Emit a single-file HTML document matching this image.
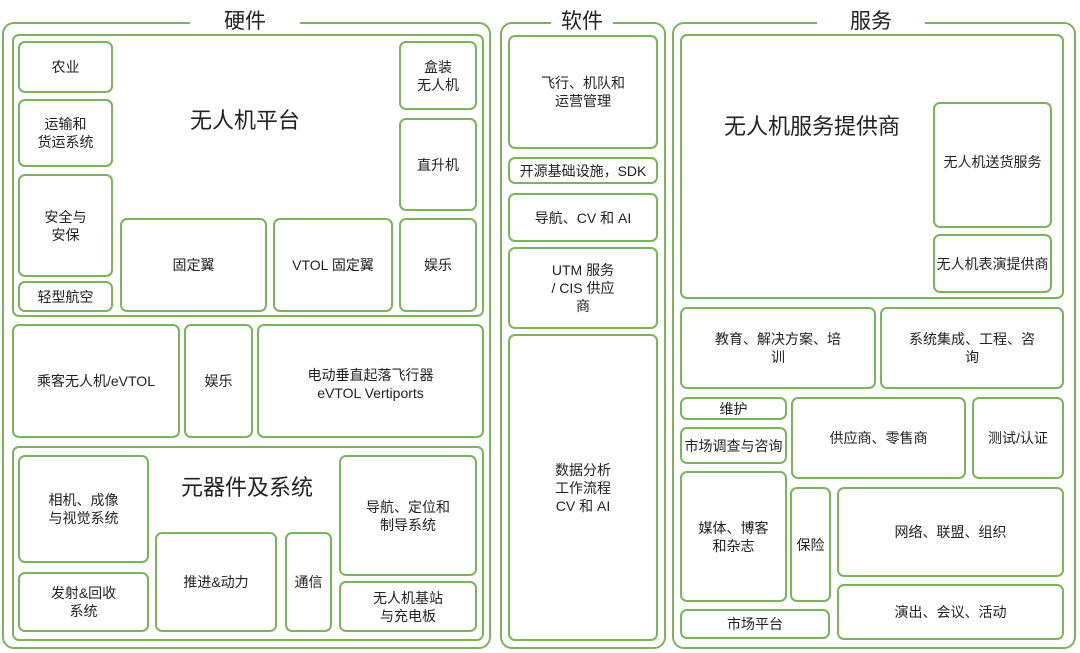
<!DOCTYPE html>
<html><head><meta charset="utf-8"><style>
body{margin:0;width:1080px;height:653px;background:#fff;position:relative;overflow:hidden;font-family:"Liberation Sans","Noto Sans CJK SC",sans-serif;color:#222}
.b{position:absolute;box-sizing:border-box;border:2px solid #7ab55c;border-radius:7px;display:flex;align-items:center;justify-content:center;text-align:center;font-size:14px;line-height:18px}
.t{position:absolute;font-size:22px;white-space:nowrap;color:#222;transform:translate(-50%,-50%)}
.h{position:absolute;background:#fff;font-size:21px;transform:translate(-50%,-50%);padding:0 14px;color:#222}
</style></head><body>
<!-- Hardware -->
<div class="b" style="left:2px;top:22px;width:489px;height:627px;border-radius:12px"></div>
<div class="h" style="left:245px;top:20px;padding:0 34px">硬件</div>
<div class="b" style="left:12px;top:34px;width:472px;height:283px"></div>
<div class="t" style="left:245px;top:119px">无人机平台</div>
<div class="b" style="left:18px;top:41px;width:95px;height:52px">农业</div>
<div class="b" style="left:18px;top:99px;width:95px;height:68px">运输和<br>货运系统</div>
<div class="b" style="left:18px;top:174px;width:95px;height:103px">安全与<br>安保</div>
<div class="b" style="left:18px;top:281px;width:95px;height:31px">轻型航空</div>
<div class="b" style="left:120px;top:218px;width:147px;height:94px">固定翼</div>
<div class="b" style="left:273px;top:218px;width:120px;height:94px">VTOL 固定翼</div>
<div class="b" style="left:399px;top:218px;width:78px;height:94px">娱乐</div>
<div class="b" style="left:399px;top:41px;width:78px;height:69px">盒装<br>无人机</div>
<div class="b" style="left:399px;top:118px;width:78px;height:93px">直升机</div>
<div class="b" style="left:12px;top:324px;width:168px;height:114px">乘客无人机/eVTOL</div>
<div class="b" style="left:184px;top:324px;width:69px;height:114px;align-items:flex-start;padding-top:46px">娱乐</div>
<div class="b" style="left:257px;top:324px;width:227px;height:114px;align-items:flex-start;padding-top:40px">电动垂直起落飞行器<br>eVTOL Vertiports</div>
<div class="b" style="left:12px;top:446px;width:472px;height:195px"></div>
<div class="t" style="left:247px;top:486px">元器件及系统</div>
<div class="b" style="left:18px;top:455px;width:131px;height:108px">相机、成像<br>与视觉系统</div>
<div class="b" style="left:18px;top:572px;width:131px;height:60px">发射&amp;回收<br>系统</div>
<div class="b" style="left:155px;top:532px;width:122px;height:100px">推进&amp;动力</div>
<div class="b" style="left:285px;top:532px;width:47px;height:100px">通信</div>
<div class="b" style="left:339px;top:455px;width:138px;height:121px">导航、定位和<br>制导系统</div>
<div class="b" style="left:339px;top:581px;width:138px;height:51px">无人机基站<br>与充电板</div>
<!-- Software -->
<div class="b" style="left:500px;top:22px;width:166px;height:627px;border-radius:12px"></div>
<div class="h" style="left:582px;top:20px;padding:0 10px">软件</div>
<div class="b" style="left:508px;top:35px;width:150px;height:114px">飞行、机队和<br>运营管理</div>
<div class="b" style="left:508px;top:157px;width:150px;height:27px">开源基础设施，SDK</div>
<div class="b" style="left:508px;top:193px;width:150px;height:49px">导航、CV 和 AI</div>
<div class="b" style="left:508px;top:247px;width:150px;height:82px">UTM 服务<br>/ CIS 供应<br>商</div>
<div class="b" style="left:508px;top:334px;width:150px;height:307px">数据分析<br>工作流程<br>CV 和 AI</div>
<!-- Services -->
<div class="b" style="left:672px;top:22px;width:404px;height:627px;border-radius:12px"></div>
<div class="h" style="left:871px;top:20px;padding:0 33px">服务</div>
<div class="b" style="left:680px;top:34px;width:384px;height:265px"></div>
<div class="t" style="left:812px;top:125px">无人机服务提供商</div>
<div class="b" style="left:933px;top:102px;width:119px;height:126px;align-items:flex-start;padding-top:49px">无人机送货服务</div>
<div class="b" style="left:933px;top:234px;width:119px;height:59px;white-space:nowrap">无人机表演提供商</div>
<div class="b" style="left:680px;top:307px;width:196px;height:82px">教育、解决方案、培<br>训</div>
<div class="b" style="left:880px;top:307px;width:184px;height:82px">系统集成、工程、咨<br>询</div>
<div class="b" style="left:680px;top:397px;width:107px;height:23px">维护</div>
<div class="b" style="left:680px;top:427px;width:107px;height:37px;white-space:nowrap">市场调查与咨询</div>
<div class="b" style="left:680px;top:471px;width:107px;height:131px">媒体、博客<br>和杂志</div>
<div class="b" style="left:680px;top:609px;width:150px;height:30px">市场平台</div>
<div class="b" style="left:791px;top:397px;width:175px;height:82px">供应商、零售商</div>
<div class="b" style="left:972px;top:397px;width:92px;height:82px">测试/认证</div>
<div class="b" style="left:790px;top:487px;width:41px;height:115px">保险</div>
<div class="b" style="left:837px;top:487px;width:227px;height:90px">网络、联盟、组织</div>
<div class="b" style="left:837px;top:584px;width:227px;height:56px">演出、会议、活动</div>
</body></html>
